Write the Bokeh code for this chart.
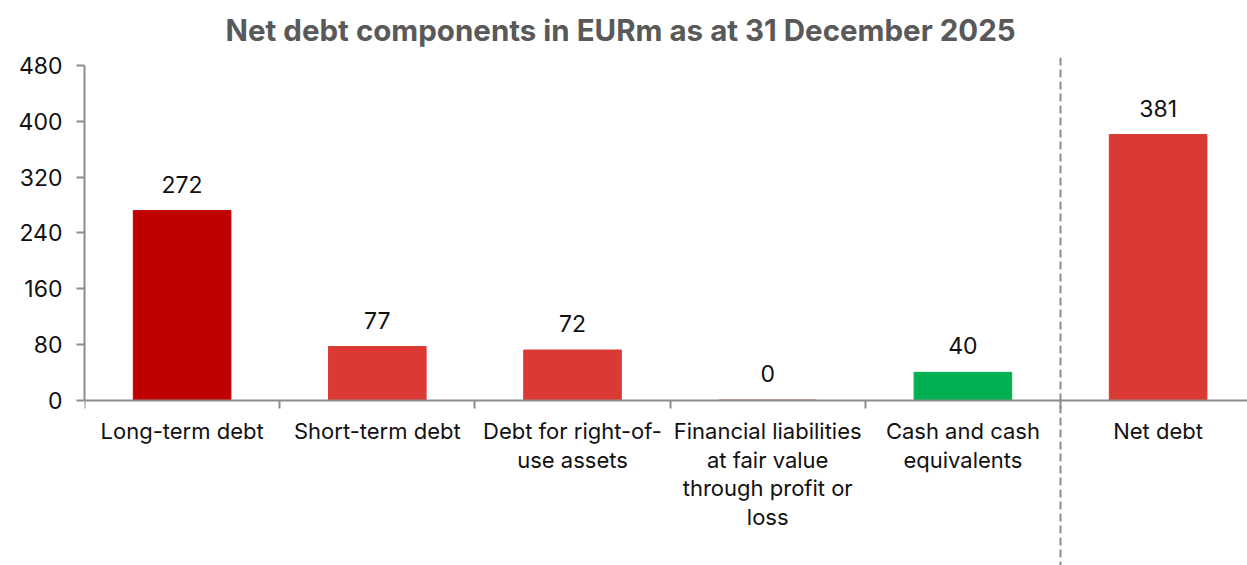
from bokeh.plotting import figure
from bokeh.models import ColumnDataSource, FixedTicker, Span, Range1d, Title
from bokeh.core.properties import value
from bokeh.embed import file_html
from bokeh.resources import INLINE

# ---- data ----
categories = [
    "Long-term debt",
    "Short-term debt",
    "Debt for right-of-\nuse assets",
    "Financial liabilities\nat fair value\nthrough profit or\nloss",
    "Cash and cash\nequivalents",
    "Net debt",
]
values = [272, 77, 72, 0, 40, 381]
colors = ["#C00000", "#DA3A33", "#DA3A33", "#DA3A33", "#00B050", "#DA3A33"]
y_ticks = [0, 80, 160, 240, 320, 400, 480]
title_text = "Net debt components in EURm as at 31 December 2025"

FONT = "Inter"
n = len(categories)
xs = list(range(n))

src = ColumnDataSource(dict(x=xs, top=values, color=colors,
                            label=[str(v) for v in values]))

p = figure(width=1247, height=565, output_backend="svg", toolbar_location=None,
           x_range=Range1d(-0.5, 5.458), y_range=Range1d(-237, 491.5),
           min_border_left=84, min_border_right=0, min_border_top=57,
           min_border_bottom=0)

p.title = Title(text=title_text, align="left", offset=141, text_font=FONT,
                text_font_size="29.5px", text_font_style="bold",
                text_color="#595959", standoff=19)
p.title_location = "above"

p.vbar(x="x", top="top", width=0.5, bottom=0, color="color", source=src)
p.text(x="x", y="top", text="label", source=src, text_align="center",
       text_baseline="bottom", y_offset=-18, text_font=value(FONT),
       text_font_size="23px", text_color="#111111")

sep = Span(location=n - 1.5, dimension="height", line_color="#8c8c8c",
           line_width=2, line_dash="8 4")
p.add_layout(sep)

# x axis
p.xaxis.fixed_location = 0
p.xaxis.ticker = FixedTicker(ticks=xs, minor_ticks=[i - 0.5 for i in range(n + 1)])
p.xaxis.major_label_overrides = {i: c for i, c in enumerate(categories)}
p.xaxis.major_tick_out = 0
p.xaxis.major_tick_in = 0
p.xaxis.minor_tick_out = 8
p.xaxis.minor_tick_in = 0
p.xaxis.minor_tick_line_color = "#8c8c8c"
p.xaxis.minor_tick_line_width = 2
p.xaxis.axis_line_color = "#8c8c8c"
p.xaxis.axis_line_width = 2
p.xaxis.major_label_standoff = 10
p.xaxis.major_label_text_font = FONT
p.xaxis.major_label_text_font_size = "22px"
p.xaxis.major_label_text_color = "#111111"
p.xaxis.major_label_text_line_height = 1.1

# y axis
p.yaxis.ticker = FixedTicker(ticks=y_ticks)
p.yaxis.bounds = (0, 480)
p.yaxis.minor_tick_line_color = None
p.yaxis.major_tick_out = 8
p.yaxis.major_tick_in = 0
p.yaxis.major_tick_line_color = "#8c8c8c"
p.yaxis.major_tick_line_width = 2
p.yaxis.axis_line_color = "#8c8c8c"
p.yaxis.axis_line_width = 2
p.yaxis.major_label_standoff = 14
p.yaxis.major_label_text_font = FONT
p.yaxis.major_label_text_font_size = "23px"
p.yaxis.major_label_text_color = "#111111"

p.xgrid.visible = False
p.ygrid.visible = False
p.outline_line_color = None
p.background_fill_color = "white"
p.border_fill_color = "white"

open("out.html", "w").write(file_html(p, INLINE))
